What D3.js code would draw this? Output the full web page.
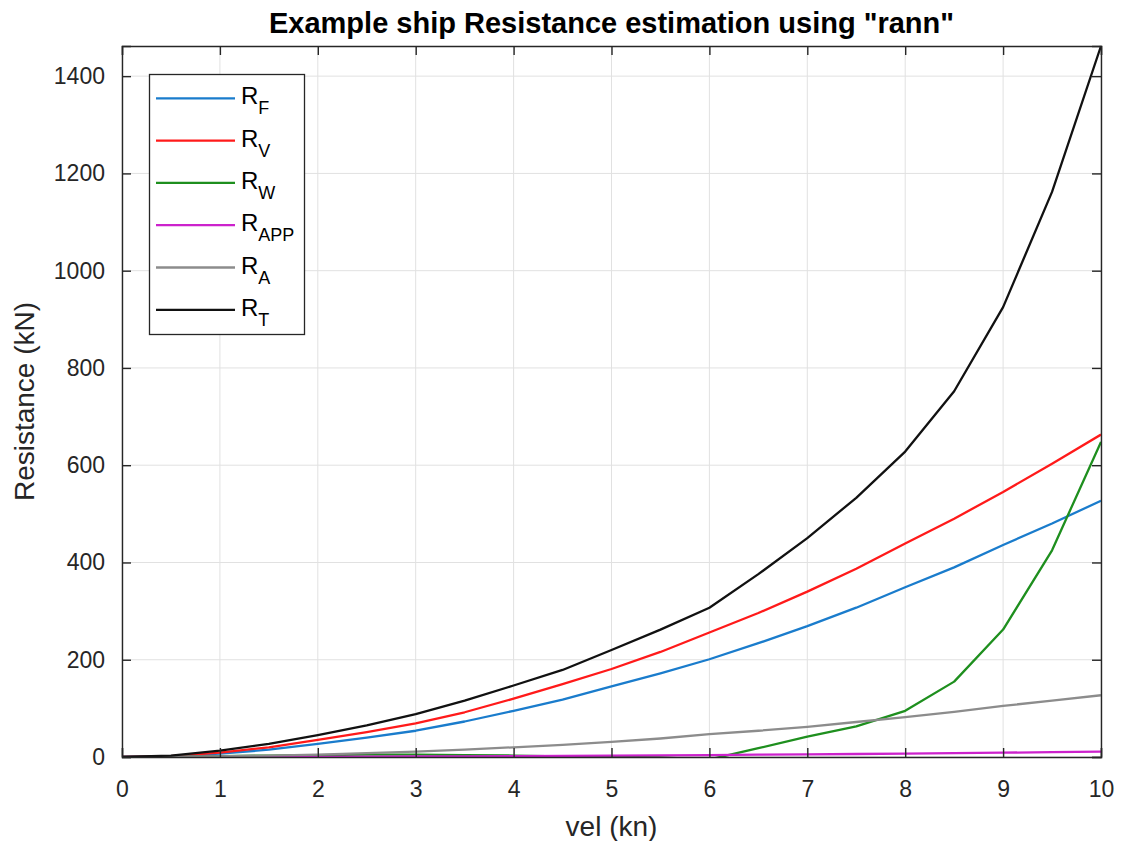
<!DOCTYPE html>
<html><head><meta charset="utf-8">
<script src="https://cdn.jsdelivr.net/npm/d3@7"></script>
<style>body{margin:0;background:#fff;} text{font-family:"Liberation Sans",Arial,Helvetica,sans-serif;}</style>
</head><body>
<svg id="c" width="1123" height="841"></svg>
<script>
const vel  = [0,0.5,1,1.5,2,2.5,3,3.5,4,4.5,5,5.5,6,6.5,7,7.5,8,8.5,9,9.5,10];
const RF   = [0,1.5,7,15,27,40,54,73,95,118,145,172,201,234,269,307,349,390,436,480,527];
const RV   = [0,2,9,20,35,51,69,92,120,150,181,216,256,296,340,387,439,490,545,603,663];
const RW   = [0,0.5,2,3,4,5,5,4,3,1,0,-1,-5,18,42,63,95,155,262,425,648];
const RAPP = [0,0.03,0.1,0.25,0.45,0.7,1.0,1.4,1.8,2.3,2.8,3.4,4.0,4.7,5.4,6.2,7.1,8.0,8.9,9.9,11];
const RA   = [0,0.3,1.3,3,5,8,11,15,20,25,31,38,47,54,62,72,82,93,105,116,127];
const RT   = [0,3,13,27,45,65,88,116,147,179,220,262,307,376,450,533,628,752,925,1162,1462];
const seriesNames = ["F","V","W","APP","A","T"];
const seriesColors = ["#1a7ccc","#ff1a1a","#1e8f1e","#cc22cc","#8c8c8c","#111111"];
const xTicks = [0,1,2,3,4,5,6,7,8,9,10];
const yTicks = [0,200,400,600,800,1000,1200,1400];
const title = 'Example ship Resistance estimation using "rann"';
const xLabel = "vel (kn)";
const yLabel = "Resistance (kN)";

const series = [RF,RV,RW,RAPP,RA,RT];
const L=122,R=1101,T=46,B=757;
const svg=d3.select("#c");
const x=d3.scaleLinear().domain([0,10]).range([L,R]);
const y=d3.scaleLinear().domain([0,d3.max(RT)]).range([B,T]);
const ink="#262626";

// grid
svg.append("g").selectAll("line").data(xTicks).join("line")
 .attr("x1",d=>x(d)).attr("x2",d=>x(d)).attr("y1",T).attr("y2",B)
 .attr("stroke","#e1e1e1").attr("stroke-width",1);
svg.append("g").selectAll("line").data(yTicks).join("line")
 .attr("y1",d=>y(d)).attr("y2",d=>y(d)).attr("x1",L).attr("x2",R)
 .attr("stroke","#e1e1e1").attr("stroke-width",1);

// clip
svg.append("clipPath").attr("id","clip").append("rect").attr("x",L).attr("y",T-2).attr("width",R-L).attr("height",B-T+2);

const line=d3.line().x((d,i)=>x(vel[i])).y(d=>y(d));
svg.append("g").attr("clip-path","url(#clip)").selectAll("path").data(series).join("path")
 .attr("d",line).attr("fill","none").attr("stroke",(d,i)=>seriesColors[i]).attr("stroke-width",2.3)
 .attr("stroke-linejoin","round");

// axes
const fs=23;
const xb=svg.append("g").attr("transform",`translate(0,${B})`).call(d3.axisBottom(x).tickValues(xTicks).tickSize(-9).tickPadding(23).tickFormat(d3.format("d")));
const xt=svg.append("g").attr("transform",`translate(0,${T})`).call(d3.axisTop(x).tickValues(xTicks).tickSize(-9).tickFormat(""));
const yl=svg.append("g").attr("transform",`translate(${L},0)`).call(d3.axisLeft(y).tickValues(yTicks).tickSize(-9).tickPadding(17).tickFormat(d3.format("d")));
const yr=svg.append("g").attr("transform",`translate(${R},0)`).call(d3.axisRight(y).tickValues(yTicks).tickSize(-9).tickFormat(""));
[xb,xt,yl,yr].forEach(g=>{
  g.select(".domain").attr("stroke",ink).attr("stroke-width",1.4);
  g.selectAll(".tick line").attr("stroke",ink).attr("stroke-width",1.4);
  g.selectAll(".tick text").attr("fill",ink).style("font-size",fs+"px").style("font-family","'Liberation Sans',Arial,sans-serif");
});
xb.selectAll(".tick text").attr("dy","0").attr("y",797-B);

// labels
svg.append("text").attr("x",(L+R)/2).attr("y",33).attr("text-anchor","middle")
 .style("font-size","29px").style("font-weight","bold").attr("fill","#000").text(title);
svg.append("text").attr("x",(L+R)/2).attr("y",836).attr("text-anchor","middle")
 .style("font-size","28px").attr("fill",ink).text(xLabel);
svg.append("text").attr("transform",`translate(34,${(T+B)/2}) rotate(-90)`).attr("text-anchor","middle")
 .style("font-size","28px").attr("fill",ink).text(yLabel);

// legend
const lg=svg.append("g");
lg.append("rect").attr("x",149.5).attr("y",74.5).attr("width",155).attr("height",260)
 .attr("fill","#fff").attr("stroke",ink).attr("stroke-width",1.3);
const ey=i=>98.3+i*42.3;
seriesNames.forEach((n,i)=>{
  lg.append("line").attr("x1",156).attr("x2",235).attr("y1",ey(i)).attr("y2",ey(i))
   .attr("stroke",seriesColors[i]).attr("stroke-width",2.3);
  const t=lg.append("text").attr("x",241).attr("y",ey(i)+6).attr("fill","#000").style("font-size","24px");
  t.append("tspan").text("R");
  t.append("tspan").attr("dy",10).style("font-size","18px").text(n);
});
</script>
</body></html>
